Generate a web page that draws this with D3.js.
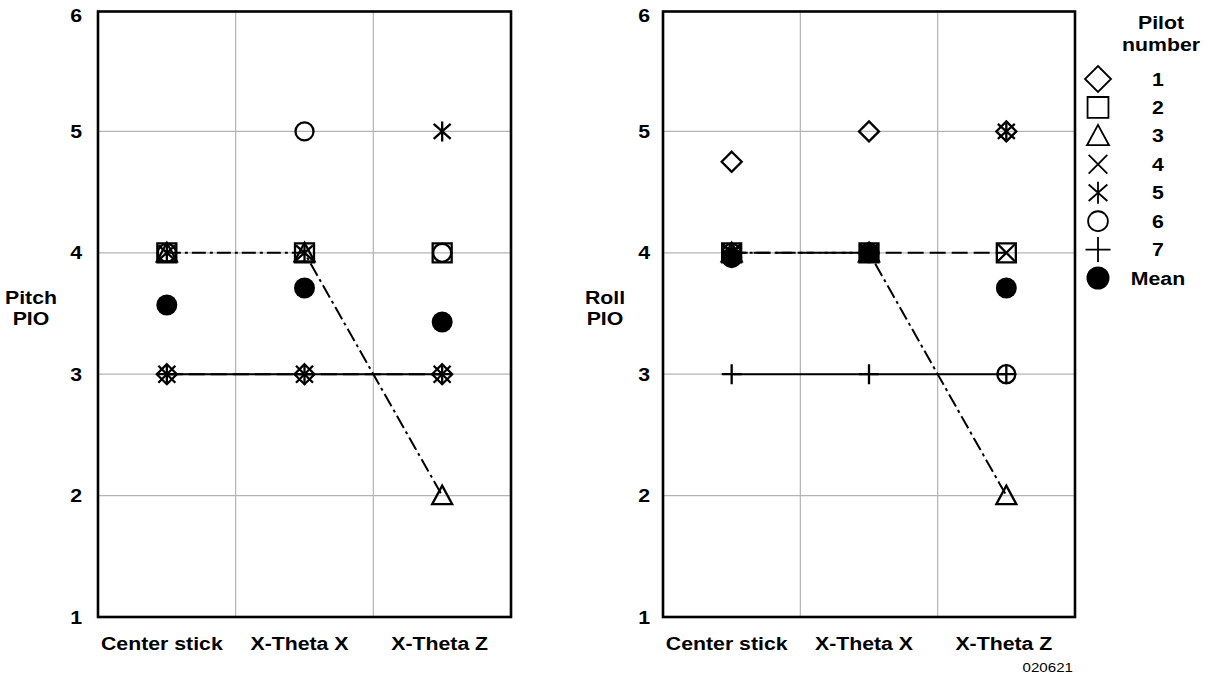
<!DOCTYPE html>
<html><head><meta charset="utf-8">
<script src="https://cdn.jsdelivr.net/npm/d3@7"></script>
<style>
html,body{margin:0;padding:0;background:#fff;}
svg{display:block;font-family:"Liberation Sans",Arial,Helvetica,sans-serif;}
</style></head>
<body><svg id="chart" width="1207" height="679"></svg>
<script>
// ---- data ----
const categories = ["Center stick", "X-Theta X", "X-Theta Z"];
const pilots = ["1", "2", "3", "4", "5", "6", "7"];
const yTicks = [1, 2, 3, 4, 5, 6];
// Pitch PIO ratings per pilot (Center stick, X-Theta X, X-Theta Z)
const pitchP1 = [3, 3, 3];
const pitchP2 = [4, 4, 4];
const pitchP3 = [4, 4, 2];
const pitchP4 = [3, 3, 3];
const pitchP5 = [4, 4, 5];
const pitchP6 = [4, 5, 4];
const pitchP7 = [3, 3, 3];
const pitchMean = [3.57, 3.71, 3.43];
// Roll PIO ratings per pilot
const rollP1 = [4.75, 5, 5];
const rollP2 = [4, 4, 4];
const rollP3 = [4, 4, 2];
const rollP4 = [4, 4, 4];
const rollP5 = [4, 4, 5];
const rollP6 = [4, 4, 3];
const rollP7 = [3, 3, 3];
const rollMean = [3.96, 4.0, 3.71];
const panelTitles = [["Pitch", "PIO"], ["Roll", "PIO"]];
const legendTitle = ["Pilot", "number"];
const meanLabel = "Mean";
const footnote = "020621";

// ---- styles ----
const symbolOf = {"1":"diamond","2":"square","3":"triangle","4":"x","5":"asterisk","6":"circle","7":"plus"};
const lineDash = {"3":"14,4,3,4", "4":"16,6", "7":null}; // pilots with connecting lines
const SX = 1.12; // horizontal text stretch
const FS = 19;

const svg = d3.select("#chart");

function symPath(type, r) {
  const p = d3.path();
  switch (type) {
    case "diamond": p.moveTo(0,-r); p.lineTo(r,0); p.lineTo(0,r); p.lineTo(-r,0); p.closePath(); break;
    case "square": p.rect(-r*0.95,-r*0.95,r*1.9,r*1.9); break;
    case "triangle": p.moveTo(0,-r); p.lineTo(r,r*0.85); p.lineTo(-r,r*0.85); p.closePath(); break;
    case "x": p.moveTo(-r*0.85,-r*0.85); p.lineTo(r*0.85,r*0.85); p.moveTo(r*0.85,-r*0.85); p.lineTo(-r*0.85,r*0.85); break;
    case "asterisk": p.moveTo(-r*0.85,-r*0.75); p.lineTo(r*0.85,r*0.75); p.moveTo(r*0.85,-r*0.75); p.lineTo(-r*0.85,r*0.75); p.moveTo(0,-r); p.lineTo(0,r); break;
    case "circle": p.arc(0,0,r*0.9,0,2*Math.PI); break;
    case "plus": p.moveTo(-r,0); p.lineTo(r,0); p.moveTo(0,-r); p.lineTo(0,r); break;
  }
  return p.toString();
}

function stretchedText(g, x, y, str, opts) {
  return g.append("text")
    .attr("transform", `translate(${x},${y}) scale(${SX},1)`)
    .attr("text-anchor", opts.anchor || "middle")
    .attr("dominant-baseline", "central")
    .attr("font-size", opts.size || FS)
    .attr("font-weight", opts.weight || "bold")
    .attr("fill", "#000")
    .text(str);
}

const y = d3.scaleLinear().domain([1, 6]).range([617, 10]);

function panel(x0, x1, series, means, title, titleX, tickX) {
  const g = svg.append("g");
  const x = d3.scaleBand().domain(categories).range([x0, x1]).padding(0);
  const cx = c => x(c) + x.bandwidth()/2;
  // grid
  g.selectAll(".hg").data(yTicks.filter(v => v > 1 && v < 6)).join("line")
    .attr("x1", x0).attr("x2", x1).attr("y1", d => y(d)).attr("y2", d => y(d))
    .attr("stroke", "#b4b4b4").attr("stroke-width", 1.2);
  g.selectAll(".vg").data(categories.slice(1)).join("line")
    .attr("x1", d => x(d)).attr("x2", d => x(d)).attr("y1", y(6)).attr("y2", y(1))
    .attr("stroke", "#b4b4b4").attr("stroke-width", 1.2);
  // y tick labels
  yTicks.forEach(v => stretchedText(g, tickX, y(v) + (v === 6 ? 5 : 0), String(v), {anchor: "end"}));
  // category labels
  categories.forEach((c, i) => stretchedText(g, cx(c) - (i === 2 ? 2.5 : 5), 643, c, {}));
  // axis title
  stretchedText(g, titleX, 297, title[0], {});
  stretchedText(g, titleX, 318, title[1], {});
  // connecting lines
  const line = d3.line().x((d, i) => cx(categories[i])).y(d => y(d));
  pilots.forEach((p, i) => {
    if (!(p in lineDash)) return;
    g.append("path").attr("d", line(series[i])).attr("fill", "none")
      .attr("stroke", "#000").attr("stroke-width", 2)
      .attr("stroke-dasharray", lineDash[p]);
  });
  // markers
  pilots.forEach((p, i) => {
    series[i].forEach((v, j) => {
      g.append("path").attr("d", symPath(symbolOf[p], 10))
        .attr("transform", `translate(${cx(categories[j])},${y(v)})`)
        .attr("fill", "none").attr("stroke", "#000").attr("stroke-width", 2.3);
    });
  });
  // means
  g.selectAll(".mean").data(means).join("circle")
    .attr("cx", (d, i) => cx(categories[i])).attr("cy", d => y(d)).attr("r", 10.5).attr("fill", "#000");
  // frame
  g.append("rect").attr("x", x0).attr("y", 11.5).attr("width", x1 - x0).attr("height", y(1) - 11.5)
    .attr("fill", "none").attr("stroke", "#000").attr("stroke-width", 2.6);
}

panel(98, 511, [pitchP1, pitchP2, pitchP3, pitchP4, pitchP5, pitchP6, pitchP7], pitchMean, panelTitles[0], 31, 82);
panel(663, 1075, [rollP1, rollP2, rollP3, rollP4, rollP5, rollP6, rollP7], rollMean, panelTitles[1], 605, 650);

// legend
const lg = svg.append("g");
stretchedText(lg, 1161, 22, legendTitle[0], {});
stretchedText(lg, 1161, 44, legendTitle[1], {});
const rowY = d3.scalePoint().domain(pilots.concat([meanLabel])).range([79, 278]);
pilots.forEach(p => {
  const sz = p === "1" ? 13 : (p === "7" ? 12.5 : 11);
  lg.append("path").attr("d", symPath(symbolOf[p], sz))
    .attr("transform", `translate(1098,${rowY(p)})`)
    .attr("fill", "none").attr("stroke", "#000").attr("stroke-width", 1.8);
  stretchedText(lg, 1158, rowY(p), p, {});
});
lg.append("circle").attr("cx", 1098).attr("cy", rowY(meanLabel)).attr("r", 11.5).attr("fill", "#000");
stretchedText(lg, 1158, rowY(meanLabel), meanLabel, {});

// footnote
stretchedText(svg, 1073, 667, footnote, {anchor: "end", size: 13.5, weight: "normal"});
</script></body></html>
